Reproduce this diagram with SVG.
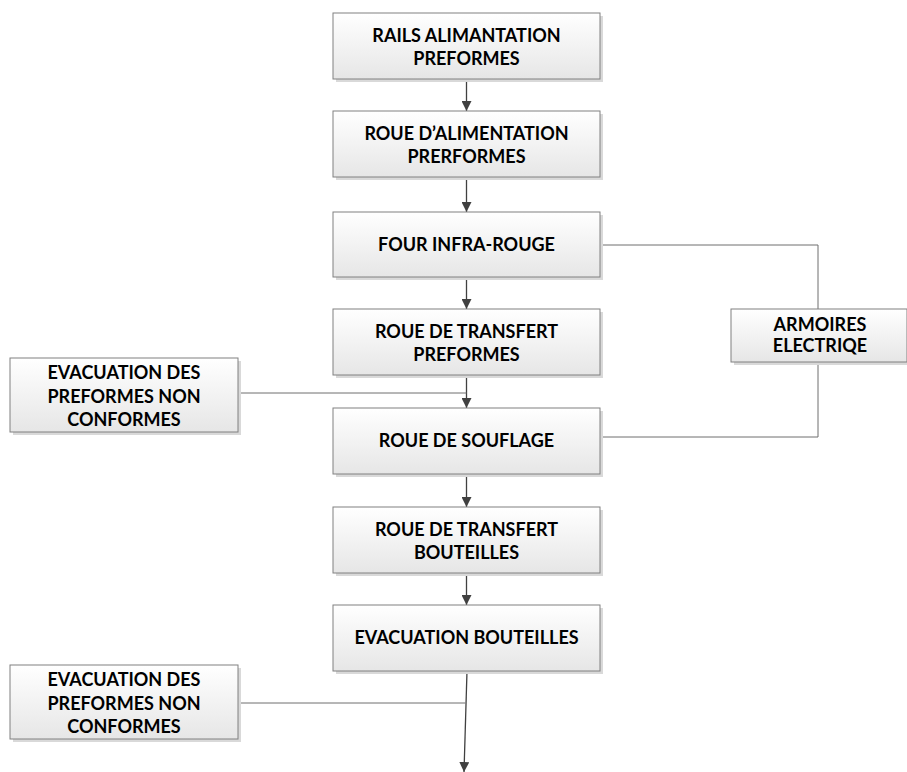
<svg xmlns="http://www.w3.org/2000/svg" width="907" height="772" viewBox="0 0 907 772">
  <style>
    .box { fill: url(#boxFill); stroke: #808080; stroke-width: 1; }
    .shadow { fill: #d9d9d9; }
    .label { font-family: Lato, "Liberation Sans", sans-serif; font-weight: 700; font-size: 18px; fill: #000; text-anchor: middle; }
    .flow { fill: none; stroke: #404040; stroke-width: 1.3; }
    .link { fill: none; stroke: #6e6e6e; stroke-width: 1; }
  </style>
  <defs>
    <linearGradient id="boxFill" x1="0" y1="0" x2="0" y2="1">
      <stop offset="0" stop-color="#ffffff"/>
      <stop offset="1" stop-color="#e6e6e6"/>
    </linearGradient>
    <marker id="arrow" viewBox="0 0 10 10" refX="10" refY="5" markerWidth="10" markerHeight="10" markerUnits="userSpaceOnUse" orient="auto">
      <path d="M0,0 L10,5 L0,10 Z" fill="#404040"/>
    </marker>
  </defs>

  <rect width="907" height="772" fill="#ffffff"/>

  <!-- connectors -->
  <g id="connectors">
    <line class="flow" x1="466.5" y1="79" x2="466.5" y2="111" marker-end="url(#arrow)"/>
    <line class="flow" x1="466.5" y1="177" x2="466.5" y2="212" marker-end="url(#arrow)"/>
    <line class="flow" x1="466.5" y1="277" x2="466.5" y2="309" marker-end="url(#arrow)"/>
    <line class="flow" x1="466.5" y1="375" x2="466.5" y2="408" marker-end="url(#arrow)"/>
    <line class="flow" x1="466.5" y1="474" x2="466.5" y2="507" marker-end="url(#arrow)"/>
    <line class="flow" x1="466.5" y1="573" x2="466.5" y2="605" marker-end="url(#arrow)"/>
    <line class="flow" x1="467" y1="671" x2="464" y2="772" marker-end="url(#arrow)"/>
    <!-- side feeds -->
    <polyline class="link" points="238,393 466.5,393"/>
    <polyline class="link" points="238,703 465.5,703"/>
    <!-- electrical cabinet links -->
    <polyline class="link" points="600,245 818,245 818,309"/>
    <polyline class="link" points="818,362 818,437 600,437"/>
  </g>

  <g id="rails-alimentation">
    <rect class="shadow" x="336" y="16" width="267" height="66"/>
    <rect class="box" x="333" y="13" width="267" height="66"/>
    <text class="label" x="466.5" y="42">RAILS ALIMANTATION</text>
    <text class="label" x="466.5" y="65">PREFORMES</text>
  </g>

  <g id="roue-alimentation">
    <rect class="shadow" x="336" y="114" width="267" height="66"/>
    <rect class="box" x="333" y="111" width="267" height="66"/>
    <text class="label" x="466.5" y="140">ROUE D’ALIMENTATION</text>
    <text class="label" x="466.5" y="163">PRERFORMES</text>
  </g>

  <g id="four-infra-rouge">
    <rect class="shadow" x="336" y="215" width="267" height="65"/>
    <rect class="box" x="333" y="212" width="267" height="65"/>
    <text class="label" x="466.5" y="251">FOUR INFRA-ROUGE</text>
  </g>

  <g id="roue-transfert-preformes">
    <rect class="shadow" x="336" y="312" width="267" height="66"/>
    <rect class="box" x="333" y="309" width="267" height="66"/>
    <text class="label" x="466.5" y="338">ROUE DE TRANSFERT</text>
    <text class="label" x="466.5" y="361">PREFORMES</text>
  </g>

  <g id="roue-souflage">
    <rect class="shadow" x="336" y="411" width="267" height="66"/>
    <rect class="box" x="333" y="408" width="267" height="66"/>
    <text class="label" x="466.5" y="447">ROUE DE SOUFLAGE</text>
  </g>

  <g id="roue-transfert-bouteilles">
    <rect class="shadow" x="336" y="510" width="267" height="66"/>
    <rect class="box" x="333" y="507" width="267" height="66"/>
    <text class="label" x="466.5" y="536">ROUE DE TRANSFERT</text>
    <text class="label" x="466.5" y="559">BOUTEILLES</text>
  </g>

  <g id="evacuation-bouteilles">
    <rect class="shadow" x="336" y="608" width="267" height="66"/>
    <rect class="box" x="333" y="605" width="267" height="66"/>
    <text class="label" x="466.5" y="644">EVACUATION BOUTEILLES</text>
  </g>

  <g id="evacuation-non-conformes-1">
    <rect class="shadow" x="13" y="361" width="228" height="74"/>
    <rect class="box" x="10" y="358" width="228" height="74"/>
    <text class="label" x="124" y="379">EVACUATION DES</text>
    <text class="label" x="124" y="403">PREFORMES NON</text>
    <text class="label" x="124" y="426">CONFORMES</text>
  </g>

  <g id="evacuation-non-conformes-2">
    <rect class="shadow" x="13" y="668" width="228" height="74"/>
    <rect class="box" x="10" y="665" width="228" height="74"/>
    <text class="label" x="124" y="686">EVACUATION DES</text>
    <text class="label" x="124" y="710">PREFORMES NON</text>
    <text class="label" x="124" y="733">CONFORMES</text>
  </g>

  <g id="armoires-electriques">
    <rect class="shadow" x="734" y="312" width="176" height="53"/>
    <rect class="box" x="731" y="309" width="176" height="53"/>
    <text class="label" x="820" y="331">ARMOIRES</text>
    <text class="label" x="820" y="352">ELECTRIQE</text>
  </g>
</svg>
